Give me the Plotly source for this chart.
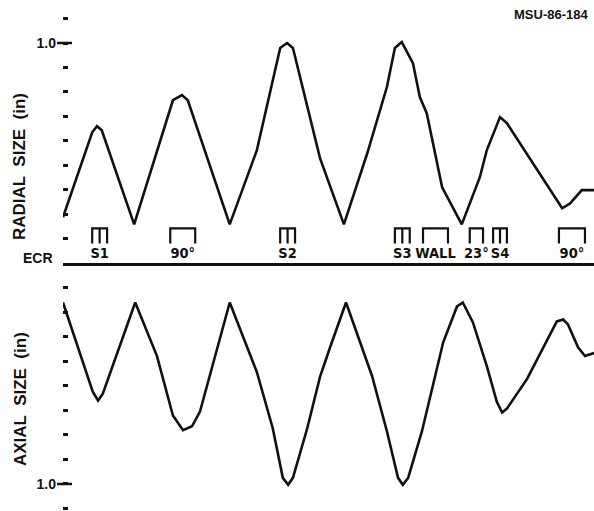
import plotly.graph_objects as go

# ---- data (x = arbitrary position units 0..100) ----
pos_radial = [0, 5.5, 6.4, 7.3, 13.4, 20.7, 22.4, 23.5, 31.4, 36.5, 40.9, 42.2, 43.3,
              48.4, 52.9, 57.3, 61.0, 62.5, 63.8, 65.9, 67.2, 68.5, 71.4, 75.1,
              78.5, 79.8, 82.3, 83.6, 94.0, 95.5, 97.7, 99.8, 100]
radial_size = [0.287, 0.635, 0.660, 0.643, 0.258, 0.766, 0.787, 0.766, 0.258, 0.561, 0.98, 1.0, 0.98,
               0.529, 0.258, 0.549, 0.82, 0.98, 1.004, 0.918, 0.779, 0.713, 0.41, 0.258,
               0.451, 0.561, 0.697, 0.672, 0.324, 0.344, 0.398, 0.398, 0.398]

pos_axial = [0, 5.6, 6.6, 7.5, 13.6, 17.7, 20.7, 22.6, 24.3, 25.8, 31.4, 36.5, 39.5,
             41.4, 42.4, 43.3, 46.0, 48.4, 50.3, 53.3, 58.2, 61.0, 63.1, 64.0, 65.0,
             67.6, 71.6, 74.2, 75.3, 77.2, 79.8, 81.7, 82.7, 83.6, 87.4, 93.0, 94.2,
             95.1, 97.0, 98.3, 100]
axial_size = [0.261, 0.624, 0.660, 0.632, 0.261, 0.479, 0.721, 0.781, 0.765, 0.705, 0.261, 0.544, 0.773,
              0.975, 1.003, 0.975, 0.773, 0.564, 0.443, 0.261, 0.560, 0.785, 0.975, 1.003, 0.975,
              0.785, 0.423, 0.277, 0.261, 0.342, 0.519, 0.665, 0.709, 0.693, 0.572, 0.338, 0.330,
              0.350, 0.443, 0.479, 0.467]

marker_labels = ["S1", "90°", "S2", "S3", "WALL", "23°", "S4", "90°"]
marker_start = [5.5, 20.2, 40.9, 62.5, 67.8, 76.6, 81.0, 93.4]
marker_end = [8.3, 24.9, 43.7, 65.3, 72.5, 79.1, 83.6, 98.3]
marker_split = [True, False, True, True, False, False, True, False]

tick_vals = [0.2, 0.3, 0.4, 0.5, 0.6, 0.7, 0.8, 0.9, 1.0, 1.1]
tick_text = ["" if v != 1.0 else "1.0" for v in tick_vals]

W, H = 594, 511
BR_TOP, BR_BOT, LBL_Y = 0.242, 0.18, 0.137
INK = "#111111"
FONT = "Liberation Sans, Arial, sans-serif"
NARROW = "Liberation Sans Narrow, DejaVu Sans Condensed, Arial, sans-serif"

fig = go.Figure()

fig.add_trace(go.Scatter(x=pos_radial, y=radial_size, mode="lines",
                         line=dict(color=INK, width=2.6), xaxis="x", yaxis="y",
                         showlegend=False, hoverinfo="skip"))
fig.add_trace(go.Scatter(x=pos_axial, y=axial_size, mode="lines",
                         line=dict(color=INK, width=2.6), xaxis="x2", yaxis="y2",
                         showlegend=False, hoverinfo="skip"))

# bracket markers
bx, by = [], []
for s, e, split in zip(marker_start, marker_end, marker_split):
    bx += [s, s, e, e, None]
    by += [BR_BOT, BR_TOP, BR_TOP, BR_BOT, None]
    if split:
        m = (s + e) / 2
        bx += [m, m, None]
        by += [BR_TOP, BR_BOT, None]
fig.add_trace(go.Scatter(x=bx, y=by, mode="lines", line=dict(color=INK, width=2.2),
                         xaxis="x", yaxis="y", showlegend=False, hoverinfo="skip"))
fig.add_trace(go.Scatter(x=[(s + e) / 2 for s, e in zip(marker_start, marker_end)],
                         y=[LBL_Y] * len(marker_labels), mode="text", text=marker_labels,
                         textfont=dict(family=NARROW, size=14.5, color=INK, weight="bold"),
                         textposition="middle center", xaxis="x", yaxis="y",
                         showlegend=False, hoverinfo="skip"))

y_top0, y_top1 = 1 - 263 / H, 1 - 6.4 / H
xdom = [63 / W, 1]
common_y = dict(tickmode="array", tickvals=tick_vals, ticktext=tick_text, ticks="inside",
                ticklen=5, tickwidth=2.5, tickcolor=INK, showgrid=False, zeroline=False,
                showline=False, ticklabelstandoff=6,
                tickfont=dict(family=FONT, size=14, color=INK, weight="bold"))

fig.update_layout(
    width=W, height=H, margin=dict(l=0, r=0, t=0, b=0),
    paper_bgcolor="white", plot_bgcolor="white",
    xaxis=dict(domain=xdom, range=[0, 100], showgrid=False, zeroline=False,
               showticklabels=False, ticks="", showline=True, linecolor=INK,
               linewidth=3, anchor="y"),
    yaxis=dict(domain=[y_top0, y_top1], range=[0.1, 1.15], anchor="x", **common_y),
    xaxis2=dict(domain=xdom, range=[0, 100], showgrid=False, zeroline=False,
                showticklabels=False, ticks="", showline=False, anchor="y2"),
    yaxis2=dict(domain=[0, y_top0], range=[1.11, 0.1], anchor="x2", **common_y),
)

# longer dash at the 1.0 ticks
for yr in ("y", "y2"):
    fig.add_shape(type="line", xref="paper", yref=yr, x0=57 / W, x1=72 / W, y0=1.0, y1=1.0,
                  line=dict(color=INK, width=2.5))

ann_font = dict(family=FONT, size=17, color=INK, weight="bold")
fig.add_annotation(text="RADIAL  SIZE  (in)", xref="paper", yref="paper",
                   x=19 / W, y=1 - 167 / H, xanchor="center", yanchor="middle",
                   textangle=-90, showarrow=False, font=ann_font)
fig.add_annotation(text="AXIAL  SIZE  (in)", xref="paper", yref="paper",
                   x=20 / W, y=1 - 399 / H, xanchor="center", yanchor="middle",
                   textangle=-90, showarrow=False, font=ann_font)
fig.add_annotation(text="ECR", xref="paper", yref="paper", x=55 / W, y=1 - 258 / H,
                   xanchor="right", yanchor="middle", showarrow=False,
                   font=dict(family=FONT, size=14, color=INK, weight="bold"))
fig.add_annotation(text="MSU-86-184", xref="paper", yref="paper", x=590 / W, y=1 - 14 / H,
                   xanchor="right", yanchor="middle", showarrow=False,
                   font=dict(family=FONT, size=13, color=INK, weight="bold"))

fig.write_html("out.html", config={"displayModeBar": False},
               post_script="document.body.style.margin='0';document.body.style.overflow='hidden';")
